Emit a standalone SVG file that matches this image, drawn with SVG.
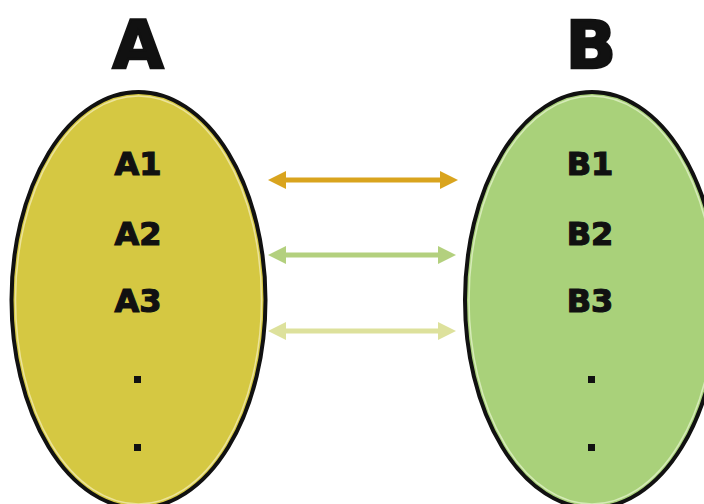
<svg xmlns="http://www.w3.org/2000/svg" width="704" height="504" viewBox="0 0 704 504">
  <style>
    .set { stroke: #111; stroke-width: 4; }
    .rim { fill: none; stroke-width: 1.5; }
    .title { font-family: "DejaVu Sans", "Liberation Sans", sans-serif; font-weight: bold; font-size: 66px; fill: #111; stroke: #111; stroke-width: 2.5; text-anchor: middle; }
    .item { font-family: "DejaVu Sans", "Liberation Sans", sans-serif; font-weight: bold; font-size: 32px; fill: #111; stroke: #111; stroke-width: 1.2; text-anchor: middle; }
    .link { fill: none; stroke-width: 5; }
  </style>
  <defs>
    <marker id="head1" markerUnits="userSpaceOnUse" markerWidth="20" markerHeight="20" refX="8" refY="9" orient="auto-start-reverse">
      <path d="M0,0 L18,9 L0,18 z" fill="#d9a41e"/>
    </marker>
    <marker id="head2" markerUnits="userSpaceOnUse" markerWidth="20" markerHeight="20" refX="8" refY="9" orient="auto-start-reverse">
      <path d="M0,0 L18,9 L0,18 z" fill="#b3d07e"/>
    </marker>
    <marker id="head3" markerUnits="userSpaceOnUse" markerWidth="20" markerHeight="20" refX="8" refY="9" orient="auto-start-reverse">
      <path d="M0,0 L18,9 L0,18 z" fill="#dde19c"/>
    </marker>
  </defs>

  <rect width="704" height="504" fill="#ffffff"/>

  <!-- set A -->
  <g id="setA">
    <text class="title" x="138" y="68">A</text>
    <ellipse class="set" cx="138.5" cy="300" rx="127" ry="208" fill="#d5c842"/>
    <ellipse class="rim" cx="138.5" cy="300" rx="123" ry="204" stroke="#ece39a"/>
    <text class="item" x="138" y="175">A1</text>
    <text class="item" x="138" y="245">A2</text>
    <text class="item" x="138" y="312">A3</text>
    <rect x="134" y="376" width="7" height="7" fill="#111"/>
    <rect x="134" y="444" width="7" height="7" fill="#111"/>
  </g>

  <!-- set B -->
  <g id="setB">
    <text class="title" x="591" y="68">B</text>
    <ellipse class="set" cx="592" cy="300" rx="127" ry="208" fill="#a9d17a"/>
    <ellipse class="rim" cx="592" cy="300" rx="123" ry="204" stroke="#d6ebb8"/>
    <text class="item" x="590" y="175">B1</text>
    <text class="item" x="590" y="245">B2</text>
    <text class="item" x="590" y="312">B3</text>
    <rect x="588" y="376" width="7" height="7" fill="#111"/>
    <rect x="588" y="444" width="7" height="7" fill="#111"/>
  </g>

  <!-- two-way links between the sets -->
  <g id="links">
    <path class="link" d="M278,180 H448" stroke="#d9a41e" marker-start="url(#head1)" marker-end="url(#head1)"/>
    <path class="link" d="M278,255 H446" stroke="#b3d07e" marker-start="url(#head2)" marker-end="url(#head2)"/>
    <path class="link" d="M278,331 H446" stroke="#dde19c" marker-start="url(#head3)" marker-end="url(#head3)"/>
  </g>
</svg>
